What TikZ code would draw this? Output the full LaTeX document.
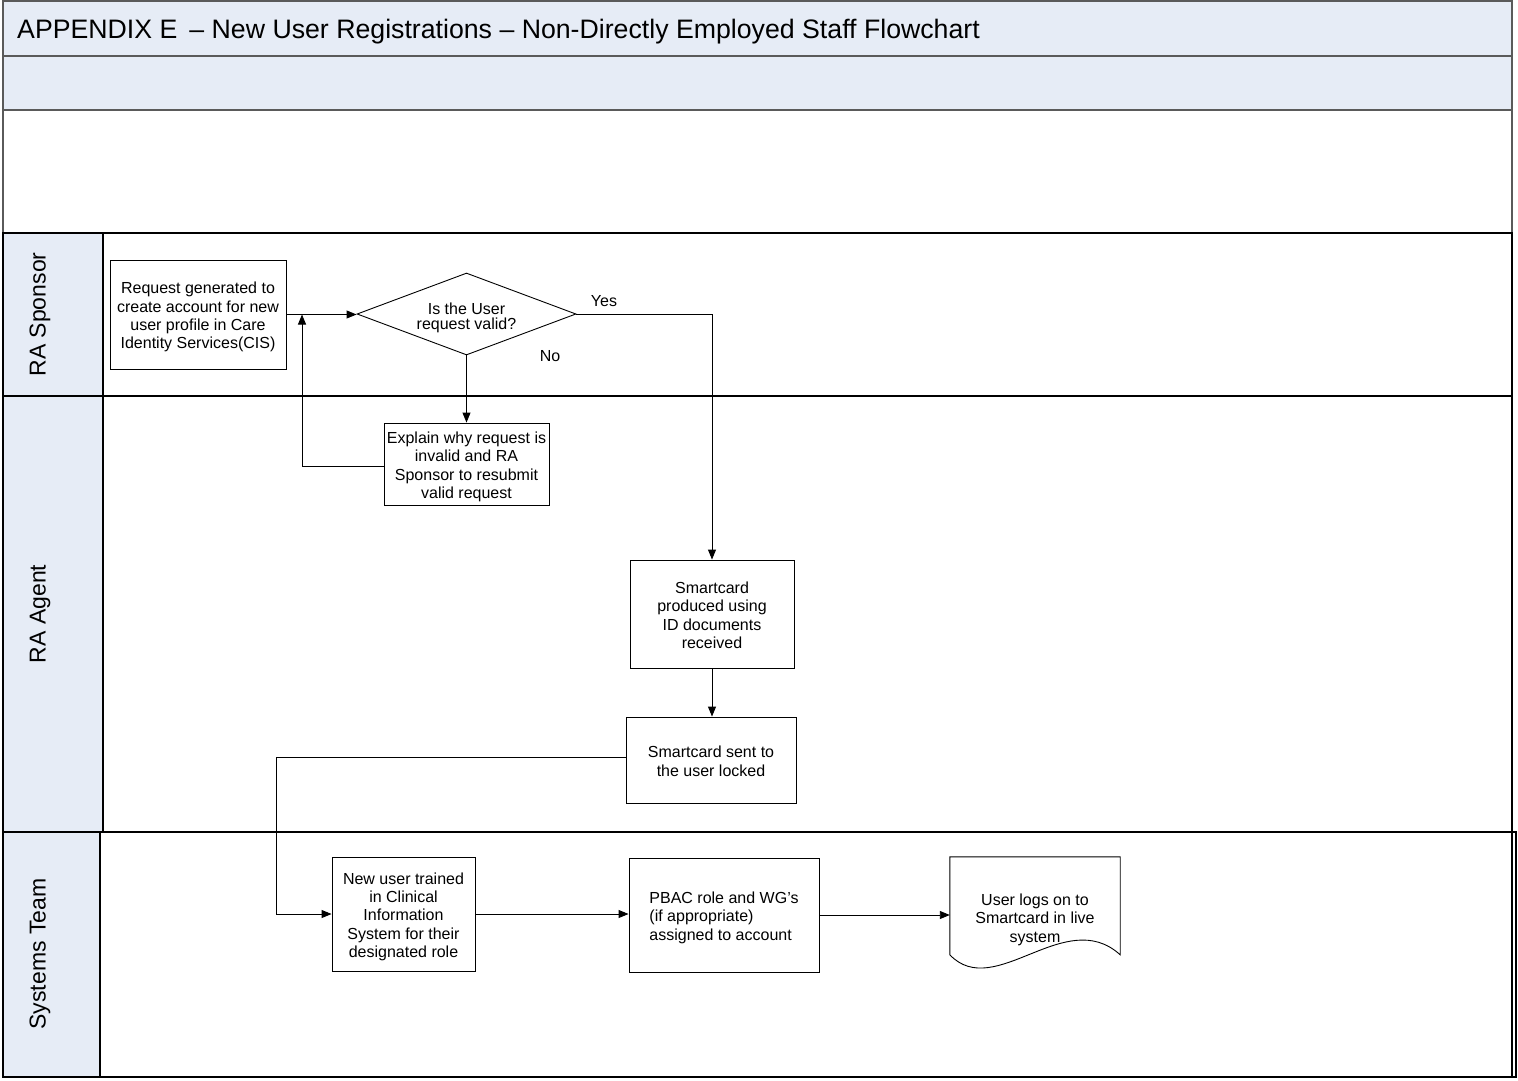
\documentclass[tikz,border=0pt]{standalone}
\usepackage{fontspec}
\setmainfont{Liberation Sans}
\usetikzlibrary{arrows.meta,shapes.geometric}
\definecolor{bandfill}{HTML}{E6ECF6}
\definecolor{frameline}{HTML}{5A5A5A}
% line struts so that a text block is centred by whole line heights
\newcommand{\lsa}{\rule{0pt}{17.5pt}}
\newcommand{\ls}{\rule[-3.8pt]{0pt}{3.8pt}}
\newcommand{\dlsa}{\rule{0pt}{19.5pt}}
\newcommand{\dls}{\rule[-1pt]{0pt}{1pt}}
\begin{document}
\begin{tikzpicture}[x=1pt,y=-1pt,
  boxtext/.style={font=\fontsize{16}{18.3}\selectfont, align=center},
  procbox/.style={boxtext, draw=black, line width=0.9pt, fill=white, rectangle, inner sep=0pt},
  flow/.style={draw=black, line width=0.9pt, -{Triangle[length=10pt,width=8pt]}},
  lanelabel/.style={font=\fontsize{23}{26}\selectfont, rotate=90},
  laneline/.style={draw=black, line width=1.3pt},
  bandline/.style={draw=frameline, line width=1.3pt},
  smalllabel/.style={font=\fontsize{16}{18}\selectfont},
  ]
\useasboundingbox (0,0) rectangle (1518,1081);

% header bands
\filldraw[fill=bandfill, bandline] (3,1) rectangle (1512,56);
\filldraw[fill=bandfill, bandline] (3,56) rectangle (1512,110);
\draw[bandline] (3,110) rectangle (1512,233);
\node[anchor=west, font=\fontsize{26.7}{30}\selectfont, inner sep=0pt] (title) at (17,31.5)
  {APPENDIX E\hspace{12pt}– New User Registrations – Non-Directly Employed Staff Flowchart};

% swimlanes
\filldraw[fill=white, laneline] (3,233) rectangle (1512,396);
\filldraw[fill=white, laneline] (3,396) rectangle (1512,832);
\filldraw[fill=white, laneline] (100,832) rectangle (1516,1077);
\draw[laneline] (1512,832) -- (1512,1077);
\filldraw[fill=bandfill, laneline] (3,233) rectangle (103,396);
\filldraw[fill=bandfill, laneline] (3,396) rectangle (103,832);
\filldraw[fill=bandfill, laneline] (3,832) rectangle (100,1077);

\node[lanelabel] (lsp) at (40,314.5) {RA Sponsor};
\node[lanelabel] (lag) at (40,614) {RA Agent};
\node[lanelabel] (lst) at (40,954) {Systems Team};

% process steps
\node[procbox, minimum width=176pt, minimum height=109pt] (req) at (198,314.5)
  {\lsa Request generated to\\create account for new\\user profile in Care\\Identity Services(CIS)\ls};
\node[draw=black, line width=0.9pt, fill=white, diamond, aspect=2.67, inner sep=0pt,
  minimum width=219pt, minimum height=82pt, font=\fontsize{16}{15.5}\selectfont, align=center]
  (dec) at (466.5,314) {\dlsa Is the User\\request valid?\dls};
\node[procbox, minimum width=165pt, minimum height=82pt] (expl) at (466.5,464)
  {\lsa Explain why request is\\invalid and RA\\Sponsor to resubmit\\valid request\ls};
\node[procbox, minimum width=164pt, minimum height=108pt] (prod) at (712,614)
  {\lsa Smartcard\\produced using\\ID documents\\received\ls};
\node[procbox, minimum width=170pt, minimum height=86pt] (sent) at (711,760)
  {\lsa Smartcard sent to\\the user locked\ls};
\node[procbox, minimum width=143pt, minimum height=114pt] (train) at (403.5,914)
  {\lsa New user trained\\in Clinical\\Information\\System for their\\designated role\ls};
\node[procbox, minimum width=190pt, minimum height=114pt, align=left] (pbac) at (724,915)
  {\lsa PBAC role and WG’s\\(if appropriate)\\assigned to account\ls};

% document shape
\node[boxtext, minimum width=170pt, minimum height=120pt, inner sep=0pt] (doc) at (1035,917)
  {\lsa User logs on to\\Smartcard in live\\system\ls};
\draw[line width=0.9pt] ([yshift=-98pt]doc.north west) -- (doc.north west) -- (doc.north east)
  -- ([yshift=-98pt]doc.north east)
  .. controls ([xshift=-55pt,yshift=-48pt]doc.north east) and ([xshift=45pt,yshift=-145pt]doc.north west)
  .. ([yshift=-98pt]doc.north west) -- cycle;

% connectors
\coordinate (loopx) at (302,0);
\coordinate (bendx) at (276,0);
\draw[flow] (req.east) -- (req.east -| dec.west);
\draw[flow] ([yshift=-2.5pt]expl.west) -| (req.east -| loopx);
\draw[flow] (dec.south) -- (expl.north);
\draw[flow] (dec.east) -| (prod.north);
\draw[flow] (prod.south) -- (prod.south |- sent.north);
\draw[flow] ([yshift=3pt]sent.west) -- ([yshift=3pt]sent.west -| bendx) -- (bendx |- train.west) -- (train.west);
\draw[flow] (train.east) -- (train.east -| pbac.west);
\draw[flow] (pbac.east) -- (pbac.east -| doc.west);

\node[smalllabel] (yes) at (604,301) {Yes};
\node[smalllabel] (no) at (550,356) {No};
\end{tikzpicture}
\end{document}
